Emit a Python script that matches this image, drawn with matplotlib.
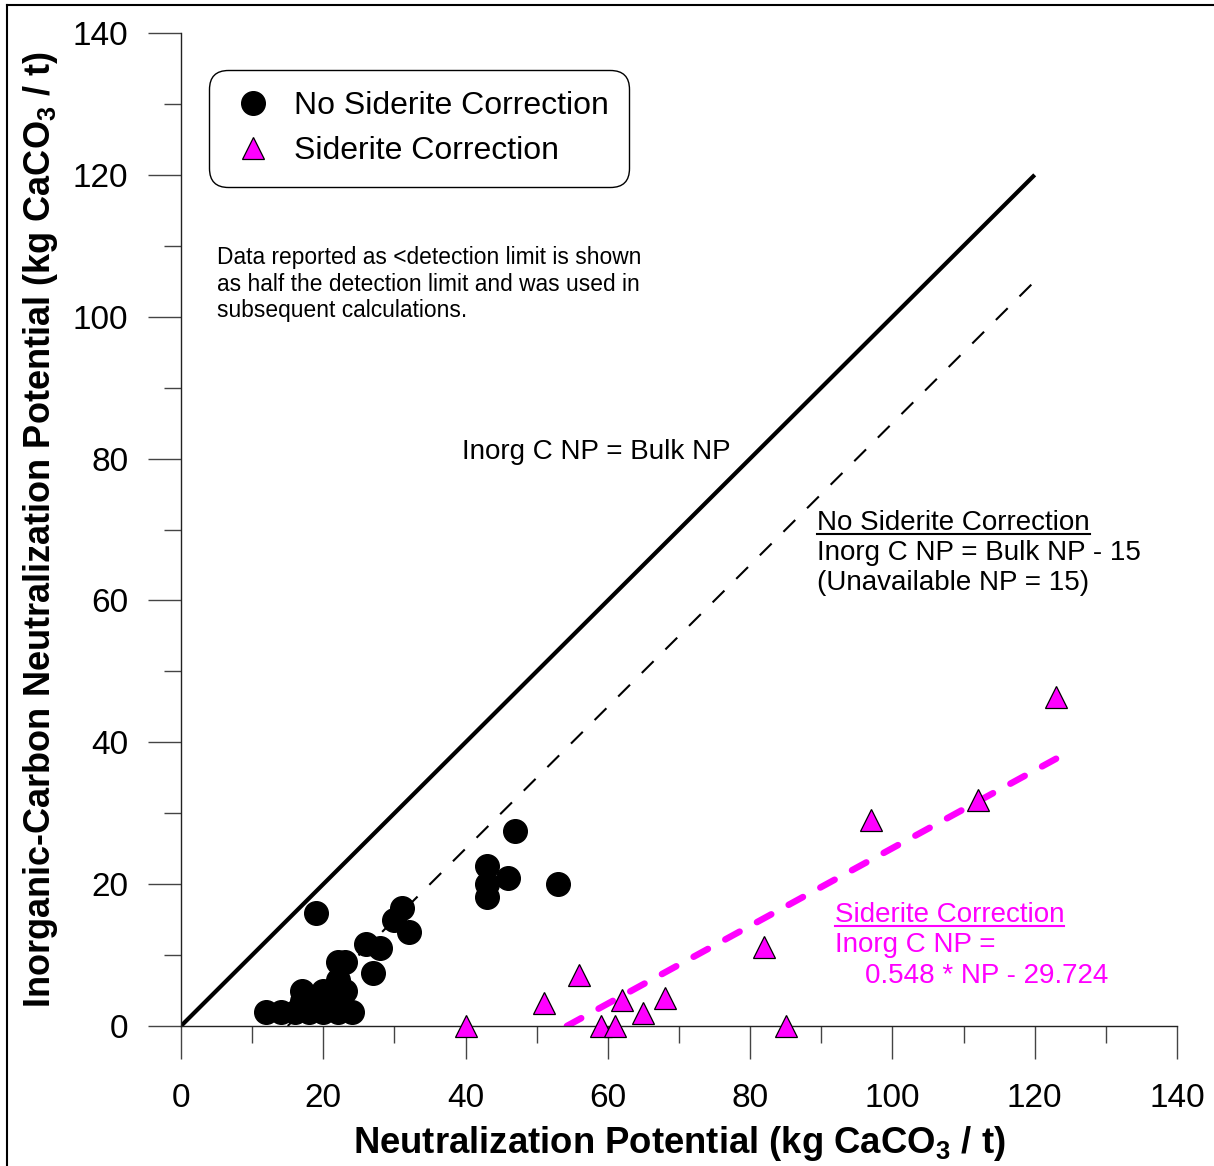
import numpy as np
import matplotlib
matplotlib.use("Agg")
import matplotlib.pyplot as plt
from matplotlib.lines import Line2D

plt.rcParams['font.family'] = ['Liberation Sans', 'DejaVu Sans']
plt.rcParams['mathtext.fontset'] = 'custom'
plt.rcParams['mathtext.rm'] = 'Liberation Sans:bold'
plt.rcParams['mathtext.bf'] = 'Liberation Sans:bold'

# no siderite correction (black circles)
np_nosid = [12, 14, 16, 18, 20, 22, 24, 17, 17, 20, 19, 21,
            22, 23, 22, 23, 19, 26, 28, 27, 30, 31, 32,
            43, 43, 43, 46, 47, 53]
inorg_nosid = [2, 2, 2, 2, 2, 2, 2, 5, 3.5, 5, 3, 3,
               9, 9, 6.5, 5, 16, 11.5, 11, 7.5, 15, 16.7, 13.3,
               22.5, 20, 18.2, 20.8, 27.5, 20]

# siderite correction (magenta triangles)
np_sid = [40, 51, 56, 59, 61, 62, 65, 68, 82, 85, 97, 112, 123]
inorg_sid = [0, 3.3, 7.2, 0, 0, 3.6, 1.8, 3.9, 11.2, 0, 29, 31.8, 46.4]

# reference lines
one_to_one_x = [0, 120]
unavail_np = 15
unavail_x = [15, 120]
fit_slope = 0.548
fit_icpt = -29.724
fit_x = [-fit_icpt / fit_slope, 123]

ticks = [0, 20, 40, 60, 80, 100, 120, 140]
magenta = '#FF00FF'

fig = plt.figure(figsize=(12.14, 11.66), dpi=100)
ax = fig.add_axes([181/1214, 1 - 1026/1166, (1177-181)/1214, (1026-33)/1166])

ax.plot(one_to_one_x, one_to_one_x, color='black', lw=3, solid_capstyle='butt', zorder=2)
ax.plot(unavail_x, [x - unavail_np for x in unavail_x], color='black', lw=1.5,
        dashes=(8, 8), zorder=2)
ax.plot(fit_x, [fit_slope * x + fit_icpt for x in fit_x], color=magenta, lw=4.7,
        dashes=(2.5, 3.03), dash_capstyle='round', zorder=2)

ax.plot(np_nosid, inorg_nosid, 'o', color='black', ms=17, mec='black', zorder=3, clip_on=False)
ax.plot(np_sid, inorg_sid, '^', color=magenta, ms=16, mec='black', mew=0.9, zorder=4, clip_on=False)

ax.set_xlim(0, 140)
ax.set_ylim(0, 140)
ax.set_xticks(ticks)
ax.set_yticks(ticks)
ax.set_xticks(np.arange(10, 140, 20), minor=True)
ax.set_yticks(np.arange(10, 140, 20), minor=True)
for s in ['top', 'right']:
    ax.spines[s].set_visible(False)
for s in ['left', 'bottom']:
    ax.spines[s].set_linewidth(1.0)
    ax.spines[s].set_color('#222222')
ax.tick_params(which='major', direction='out', length=24, width=1, color='#444444',
               labelsize=24)
ax.tick_params(which='minor', direction='out', length=12, width=1, color='#444444')
ax.tick_params(axis='x', which='major', pad=17)
ax.tick_params(axis='y', which='major', pad=14)

ax.set_xlabel(r'Neutralization Potential (kg CaCO$_3$ / t)', fontsize=26.3,
              fontweight='bold', labelpad=7)
ax.set_ylabel(r'Inorganic-Carbon Neutralization Potential (kg CaCO$_3$ / t)', fontsize=26,
              fontweight='bold', labelpad=9)

# annotations
ax.text(5.06, 108.3, 'Data reported as <detection limit is shown', fontsize=16.4, va='center')
ax.text(5.06, 104.6, 'as half the detection limit and was used in', fontsize=16.4, va='center')
ax.text(5.06, 100.9, 'subsequent calculations.', fontsize=16.4, va='center')

ax.text(39.5, 80.9, 'Inorg C NP = Bulk NP', fontsize=20, va='center')

t1 = ax.text(89.4, 70.9, 'No Siderite Correction', fontsize=20, va='center')
ax.text(89.4, 66.7, 'Inorg C NP = Bulk NP - 15', fontsize=20, va='center')
ax.text(89.4, 62.5, '(Unavailable NP = 15)', fontsize=20, va='center')

t2 = ax.text(91.9, 15.6, 'Siderite Correction', fontsize=20, va='center', color=magenta)
ax.text(91.9, 11.4, 'Inorg C NP =', fontsize=20, va='center', color=magenta)
ax.text(96.1, 7.0, '0.548 * NP - 29.724', fontsize=20, va='center', color=magenta)

handles = [Line2D([], [], ls='none', marker='o', color='black', ms=17),
           Line2D([], [], ls='none', marker='^', color=magenta, mec='black', mew=0.9, ms=16)]
leg = fig.legend(handles, ['No Siderite Correction', 'Siderite Correction'],
                 loc='upper left', bbox_to_anchor=(209/1214, 1 - 70/1166),
                 fontsize=23, frameon=True, fancybox=True, framealpha=1,
                 edgecolor='black', handlelength=1.44, handletextpad=0.56,
                 borderpad=0.65, labelspacing=0.48, borderaxespad=0)
leg.get_frame().set_linewidth(1.0)
leg.get_frame().set_boxstyle('round', pad=0, rounding_size=0.6)

# underline the two heading texts
fig.canvas.draw()
r = fig.canvas.get_renderer()
inv = fig.transFigure.inverted()
for t, c in [(t1, 'black'), (t2, magenta)]:
    bb = t.get_window_extent(r)
    (x0, y0), (x1, _) = inv.transform([(bb.x0, bb.y0 + 2), (bb.x1, bb.y0 + 2)])
    fig.add_artist(Line2D([x0, x1], [y0, y0], color=c, lw=1.5))

# outer border (left and top edge)
fig.add_artist(Line2D([7/1214, 7/1214], [0, 1 - 5/1166], color='black', lw=1.5))
fig.add_artist(Line2D([7/1214, 1], [1 - 5/1166, 1 - 5/1166], color='black', lw=1.5))

fig.savefig('out.png', dpi=100)
